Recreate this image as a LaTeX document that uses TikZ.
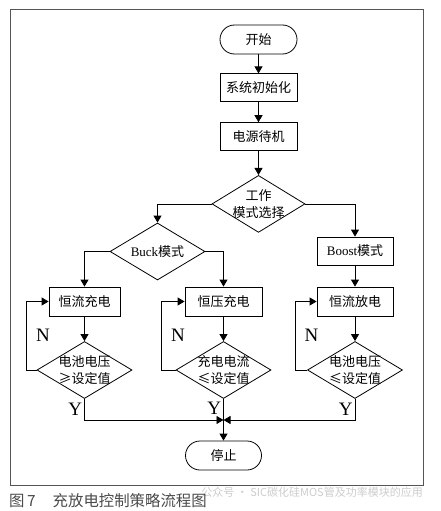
\documentclass[tikz,border=0pt]{standalone}
\usepackage{fontspec}
\setmainfont{Liberation Serif}
\newfontfamily\cjk{Noto Sans CJK SC}
\usepackage{xcolor}
\usepackage{tikz}
\usetikzlibrary{arrows.meta,shapes.geometric,positioning}

\definecolor{framegray}{HTML}{555555}
\definecolor{capgray}{HTML}{4A4A4A}

\begin{document}
\begin{tikzpicture}[x=1pt, y=1pt, node distance=19pt, font=\cjk\fontsize{13}{17}\selectfont]
        % stijlen
        \tikzstyle{startstop} = [rectangle, rounded corners=14.5pt, minimum width=77pt, minimum height=29pt, text centered, draw=black, thick]
        \tikzstyle{process} = [rectangle, minimum width=77pt, minimum height=28pt, text centered, draw=black, thick]
        \tikzstyle{decision} = [diamond, minimum width=95pt, minimum height=57pt, inner sep=-8pt, align=center, draw=black, thick]
        \tikzstyle{arrow} = [thick,-{Triangle[length=7pt,width=8pt]}]
        \tikzstyle{yn} = [font=\rmfamily\fontsize{19}{19}\selectfont, inner sep=2pt]

        \useasboundingbox (0,0) rectangle (440,-511);
        \draw[framegray, line width=1pt] (10,-10) rectangle (423,-485);

        % hoofdkolom
        \node (start) [startstop] at (258.5,-39.5) {开始};
        \node (init) [process, below=of start] {系统初始化};
        \node (standby) [process, below=20pt of init] {电源待机};
        \node (mode) [decision, minimum width=93pt, below=24pt of standby] {工作\\模式选择};

        % takken
        \node (buck) [decision] at (157.5,-251.5) {{\rmfamily Buck}模式};
        \node (boost) [process, minimum width=76pt] at (355,-251) {{\rmfamily Boost}模式};
        \node (cc) [process, minimum width=71pt, minimum height=29pt] at (84.5,-301.5) {恒流充电};
        \node (cv) [process, minimum height=29pt] at (223.5,-301.5) {恒压充电};
        \node (cd) [process, minimum width=76pt, minimum height=29pt] at (355,-301.5) {恒流放电};
        \node (chka) [decision] at (84.5,-370) {电池电压\\≥设定值};
        \node (chkb) [decision] at (223.5,-370) {充电电流\\≤设定值};
        \node (chkc) [decision] at (355,-370) {电池电压\\≤设定值};
        \coordinate (join) at (223.5,-420);
        \node (stop) [startstop, minimum width=76pt] at (223.5,-455.5) {停止};

        % pijlen
        \draw [arrow] (start) -- (init);
        \draw [arrow] (init) -- (standby);
        \draw [arrow] (standby) -- (mode);
        \draw [arrow] (mode.west) -| (buck.north);
        \draw [arrow] (mode.east) -| (boost.north);
        \draw [arrow] (buck.west) -| (cc.north);
        \draw [arrow] (buck.east) -| (cv.north);
        \draw [arrow] (boost) -- (cd);
        \draw [arrow] (cc) -- (chka);
        \draw [arrow] (cv) -- (chkb);
        \draw [arrow] (cd) -- (chkc);

        % terugkoppeling
        \draw [arrow] (chka.west) -- ++(-10,0) |- node[yn, pos=0.25, right=7pt] {N} (cc.west);
        \draw [arrow] (chkb.west) -- ++(-14,0) |- node[yn, pos=0.25, right=7pt] {N} (cv.west);
        \draw [arrow] (chkc.west) -- ++(-12,0) |- node[yn, pos=0.25, right=7pt] {N} (cd.west);

        % naar stop
        \draw [arrow] (chka.south) |- node[yn, pos=0.25, left] {Y} (join);
        \draw [arrow] (chkc.south) |- node[yn, pos=0.25, left] {Y} (join);
        \draw [arrow] (chkb.south) -- node[yn, pos=0.22, left] {Y} (stop.north);

        % onderschrift
        \node (wm) [anchor=east, text=gray!40, font=\cjk\fontsize{11}{11}\selectfont, inner sep=0pt] at (423,-492) {公众号 · SIC碳化硅MOS管及功率模块的应用};
        \node (cap) [anchor=west, text=capgray, font=\cjk\fontsize{15.4}{16}\selectfont, inner sep=0pt] at (9,-501) {图\,7\hspace{17pt}充放电控制策略流程图};

    \end{tikzpicture}
\end{document}
